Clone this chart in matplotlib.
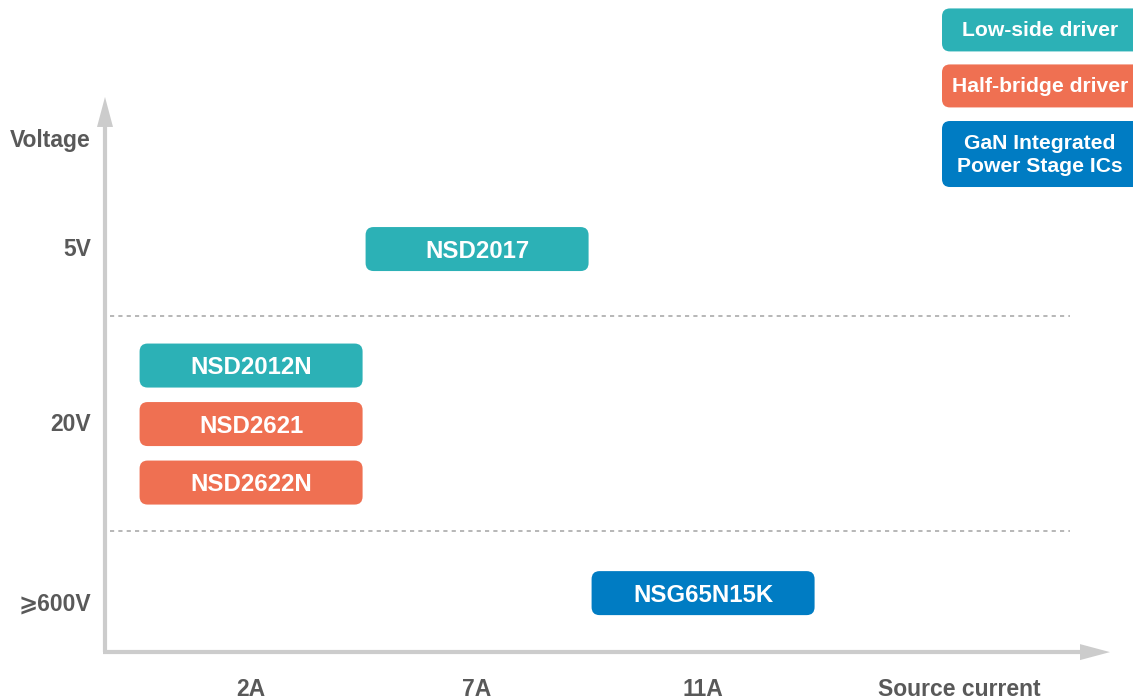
import matplotlib
matplotlib.use("Agg")
import matplotlib.pyplot as plt
from matplotlib.patches import FancyBboxPatch

# ---- data ----
current_labels = ["2A", "7A", "11A"]
current_pos = [1, 2, 3]
voltage_labels = ["5V", "20V", "\u2a7e600V"]
voltage_pos = [2, 1, 0]

products = ["NSD2017", "NSD2012N", "NSD2621", "NSD2622N", "NSG65N15K"]
product_current = ["7A", "2A", "2A", "2A", "11A"]
product_voltage = ["5V", "20V", "20V", "20V", "\u2a7e600V"]
product_slot = [0, 1, 0, -1, 0]          # vertical slot within a voltage band
product_family = ["Low-side driver", "Low-side driver", "Half-bridge driver",
                  "Half-bridge driver", "GaN Integrated\nPower Stage ICs"]

families = ["Low-side driver", "Half-bridge driver", "GaN Integrated\nPower Stage ICs"]
family_colors = ["#2cb1b6", "#ef7052", "#007cc3"]

# ---- style ----
TXT = "#595959"
AXC = "#cccccc"
FONT = ["Liberation Sans", "DejaVu Sans"]
plt.rcParams["font.family"] = FONT

X0 = -0.111
fig = plt.figure(figsize=(11.33, 6.99), dpi=100)
ax = fig.add_axes([0, 0, 1, 1])
ax.set_xlim(X0, X0 + 1133 / 226.0)
ax.set_ylim(-0.571, 3.423)
ax.axis("off")

px_x = 1 / 226.0   # data units per pixel
px_y = 1 / 175.0
aspect = px_y / px_x

def gx(p):
    return X0 + p * px_x

def rbox(xc, yc, w, h, color, r=8):
    p = FancyBboxPatch((xc - w / 2, yc - h / 2), w, h,
                       boxstyle=f"round,pad=0,rounding_size={r*px_x}",
                       mutation_aspect=aspect, fc=color, ec="none", zorder=3)
    ax.add_patch(p)

# axes arrows
ax_x0, ax_y0 = gx(105), -0.303
ax.plot([ax_x0, ax_x0], [ax_y0, 2.75], color=AXC, lw=3, solid_capstyle="butt", zorder=1)
ax.plot([ax_x0 - 0.01, gx(1085)], [ax_y0, ax_y0], color=AXC, lw=3,
        solid_capstyle="butt", zorder=1)
tip_y = 2.869
ax.fill([ax_x0 - 8 * px_x, ax_x0 + 8 * px_x, ax_x0],
        [tip_y - 30 * px_y, tip_y - 30 * px_y, tip_y], color=AXC, lw=0, zorder=1)
tip_x = gx(1110)
ax.fill([tip_x - 30 * px_x, tip_x - 30 * px_x, tip_x],
        [ax_y0 - 8 * px_y, ax_y0 + 8 * px_y, ax_y0], color=AXC, lw=0, zorder=1)

# band separators
for yb in [1.617, 0.389]:
    ax.plot([gx(110), gx(1070)], [yb, yb], color="#aaaaaa",
            lw=1.2, ls=(0, (2.5, 2.5)), zorder=1)

# axis labels
lab_x = gx(91)
ax.text(lab_x, 2.623, "Voltage", ha="right", va="center", fontsize=16.5,
        fontweight="bold", color=TXT)
for lab, y in zip(voltage_labels, voltage_pos):
    ax.text(lab_x, y - (0.03 if y == 0 else 0), lab, ha="right", va="center",
            fontsize=16.5, fontweight="bold", color=TXT)
for lab, x in zip(current_labels, current_pos):
    ax.text(x, -0.515, lab, ha="center", va="center", fontsize=16.5,
            fontweight="bold", color=TXT)
ax.text(gx(959), -0.515, "Source current", ha="center", va="center",
        fontsize=16.5, fontweight="bold", color=TXT)

# product boxes
bw, bh = 223 * px_x, 44 * px_y
slot_h = 58.5 * px_y
band_shift = {"5V": 0.0, "20V": 0.0, "\u2a7e600V": 0.034}
for name, cur, vol, slot, fam in zip(products, product_current, product_voltage,
                                     product_slot, product_family):
    x = current_pos[current_labels.index(cur)]
    y = voltage_pos[voltage_labels.index(vol)] + slot * slot_h + band_shift[vol]
    col = family_colors[families.index(fam)]
    rbox(x, y, bw, bh, col)
    ax.text(x, y - 2 * px_y, name, ha="center", va="center", fontsize=17.3,
            fontweight="bold", color="white", zorder=4)

# legend boxes
leg_y = [3.252, 2.932, 2.543]
leg_h = [43 * px_y, 43 * px_y, 66 * px_y]
leg_x0 = gx(942)
leg_tx = gx(1040)
for fam, col, yc, h in zip(families, family_colors, leg_y, leg_h):
    rbox(leg_x0 + 0.45, yc, 0.9, h, col)
    ax.text(leg_tx, yc - 1 * px_y, fam, ha="center", va="center", fontsize=15.2,
            fontweight="bold", color="white", zorder=4, linespacing=1.3)

fig.savefig("out.png", dpi=100)
